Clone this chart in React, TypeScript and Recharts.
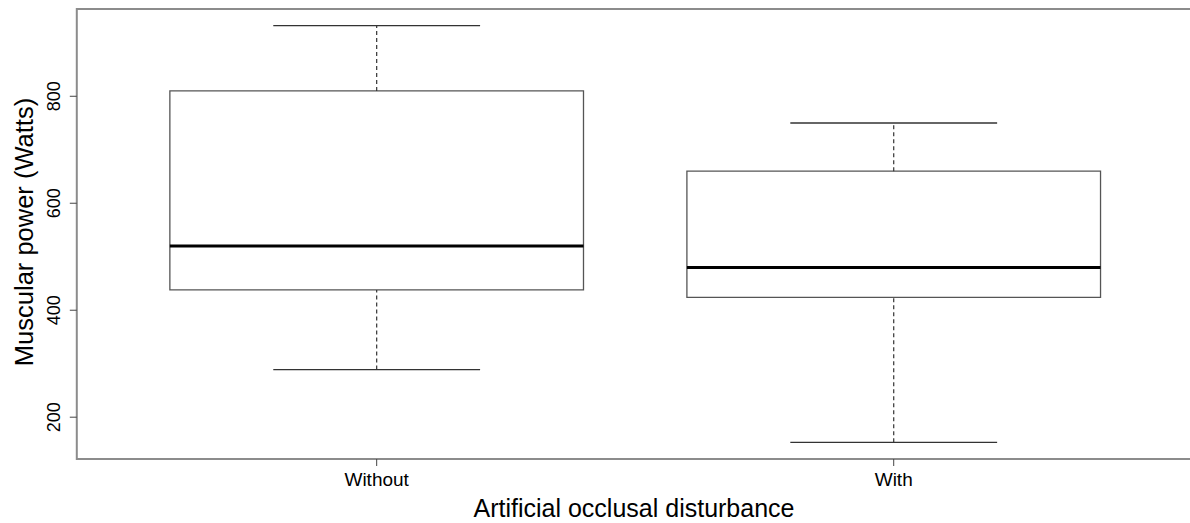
import { ComposedChart, XAxis, YAxis, ReferenceArea, ReferenceLine, Label } from "recharts";

const groups = ["Without", "With"];
const whiskerLow = [289, 153];
const lowerQuartile = [438, 424];
const median = [520, 480];
const upperQuartile = [810, 660];
const whiskerHigh = [932, 750];
const yTicks = [200, 400, 600, 800];

const FONT = '"Liberation Sans", Arial, sans-serif';
const BOX_HALF = 0.4;
const CAP_HALF = 0.2;

// R-style axis padding (4% each side)
const yMinData = Math.min(...whiskerLow);
const yMaxData = Math.max(...whiskerHigh);
const yPad = (yMaxData - yMinData) * 0.04;
const yDomain: [number, number] = [yMinData - yPad, yMaxData + yPad];
const xPad = groups.length * 0.04;
const xDomain: [number, number] = [0.5 - xPad, groups.length + 0.5 + xPad];

const rows = groups.map((name, i) => ({
  x: i + 1,
  name,
  low: whiskerLow[i],
  q1: lowerQuartile[i],
  med: median[i],
  q3: upperQuartile[i],
  high: whiskerHigh[i],
}));

function YTick({ x, y, payload }: any) {
  return (
    <text
      x={x}
      y={y}
      transform={`rotate(-90, ${x}, ${y})`}
      textAnchor="middle"
      fontSize={18}
      fontFamily={FONT}
      fill="#000"
    >
      {payload.value}
    </text>
  );
}

function XTick({ x, y, payload }: any) {
  return (
    <text x={x} y={y} dy={14} textAnchor="middle" fontSize={19} fontFamily={FONT} fill="#000">
      {groups[payload.value - 1]}
    </text>
  );
}

export default function App() {
  return (
    <div style={{ position: "absolute", left: 0, top: 0, width: 1190, height: 523, overflow: "hidden", background: "#fff" }}>
      <ComposedChart width={1200} height={523} data={rows} margin={{ top: 9, right: 6.4, bottom: 0, left: 0 }}>
        <XAxis
          type="number"
          dataKey="x"
          domain={xDomain}
          ticks={[1, 2]}
          allowDataOverflow
          axisLine={false}
          tickLine={{ stroke: "#444" }}
          tickSize={7}
          tickMargin={6}
          height={64}
          tick={<XTick />}
        >
          <Label
            content={() => (
              <text x={634} y={517} textAnchor="middle" fontSize={25} fontFamily={FONT} fill="#000">
                Artificial occlusal disturbance
              </text>
            )}
          />
        </XAxis>
        <YAxis
          type="number"
          domain={yDomain}
          ticks={yTicks}
          allowDataOverflow
          axisLine={false}
          tickLine={{ stroke: "#444" }}
          tickSize={7}
          tickMargin={9.8}
          width={76.8}
          tick={<YTick />}
        >
          <Label
            content={() => (
              <text
                x={33}
                y={232}
                transform="rotate(-90, 33, 232)"
                textAnchor="middle"
                fontSize={25.5}
                fontFamily={FONT}
                fill="#000"
              >
                Muscular power (Watts)
              </text>
            )}
          />
        </YAxis>

        {rows.map((r) => (
          <ReferenceLine
            key={`wh-${r.name}`}
            segment={[{ x: r.x, y: r.q3 }, { x: r.x, y: r.high }]}
            stroke="#333"
            strokeWidth={1.2}
            strokeDasharray="4 3"
          />
        ))}
        {rows.map((r) => (
          <ReferenceLine
            key={`wl-${r.name}`}
            segment={[{ x: r.x, y: r.low }, { x: r.x, y: r.q1 }]}
            stroke="#333"
            strokeWidth={1.2}
            strokeDasharray="4 3"
          />
        ))}
        {rows.map((r) => (
          <ReferenceLine
            key={`ch-${r.name}`}
            segment={[{ x: r.x - CAP_HALF, y: r.high }, { x: r.x + CAP_HALF, y: r.high }]}
            stroke="#333"
            strokeWidth={1.3}
          />
        ))}
        {rows.map((r) => (
          <ReferenceLine
            key={`cl-${r.name}`}
            segment={[{ x: r.x - CAP_HALF, y: r.low }, { x: r.x + CAP_HALF, y: r.low }]}
            stroke="#333"
            strokeWidth={1.3}
          />
        ))}
        {rows.map((r) => (
          <ReferenceArea
            key={`box-${r.name}`}
            x1={r.x - BOX_HALF}
            x2={r.x + BOX_HALF}
            y1={r.q1}
            y2={r.q3}
            fill="#fff"
            fillOpacity={1}
            stroke="#555"
            strokeWidth={1.3}
          />
        ))}
        {rows.map((r) => (
          <ReferenceLine
            key={`med-${r.name}`}
            segment={[{ x: r.x - BOX_HALF, y: r.med }, { x: r.x + BOX_HALF, y: r.med }]}
            stroke="#000"
            strokeWidth={3}
          />
        ))}

        <ReferenceArea
          x1={xDomain[0]}
          x2={xDomain[1]}
          y1={yDomain[0]}
          y2={yDomain[1]}
          fill="none"
          stroke="#8c8c8c"
          strokeWidth={2}
        />
      </ComposedChart>
    </div>
  );
}
